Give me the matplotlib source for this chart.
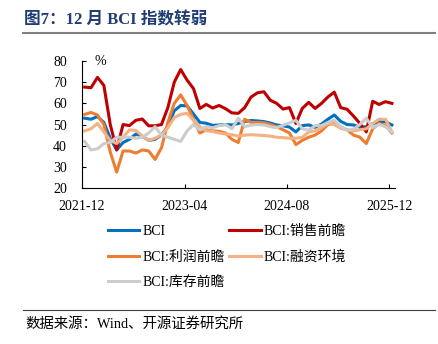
import matplotlib
matplotlib.use('Agg')
import matplotlib.pyplot as plt
import numpy as np

plt.rcParams['font.family'] = ['Liberation Serif', 'Noto Sans CJK SC']
plt.rcParams['axes.unicode_minus'] = False

# 月度数据：2021-12 至 2025-12
tick_labels = ['2021-12', '2023-04', '2024-08', '2025-12']
tick_months = [0, 16, 32, 48]

bci = [53, 52.5, 53.8, 51, 43.5, 38, 41.5, 43, 45.5, 44.5, 42.5, 43, 45,
       49, 56.5, 59, 58.8, 55, 51, 50.6, 49.6, 49.8, 50, 49.8, 50.5,
       51.4, 51.9, 51.7, 51.4, 50.7, 49.8, 49.4, 48.8, 46.5, 49.5, 49.8,
       48.7, 50.2, 52.5, 54.5, 51.5, 50, 49.8, 48.7, 49, 50.4, 51.3, 51.3,
       49.8]
sales = [67.7, 67.4, 72.3, 68.5, 50, 38, 50, 49.5, 52, 52.6, 49.4, 49.4, 50,
         58, 70, 76, 71, 67, 57.6, 59.5, 57.8, 59, 57.5, 55.5, 55.3,
         58, 63, 65, 65.5, 61.5, 60, 57.3, 58, 50.5, 57.6, 60.5,
         57.6, 60, 63, 65.3, 58, 57.2, 54, 50.5, 46.5, 61, 59.5, 60.8, 60]
profit = [54.8, 55.7, 54.5, 50, 37, 27.5, 37.5, 37.5, 36.5, 38, 37.5, 33.5, 39,
          51, 60, 64, 59, 52.5, 46, 47.5, 47, 46.8, 46, 43, 41.5,
          52.5, 51, 51, 50.8, 50, 49, 47.5, 46, 40.5, 42.5, 44,
          45, 47, 50, 50.5, 48.5, 47.5, 45, 44, 41, 48, 50.5, 49.5, 46]
finance = [47, 48, 50.5, 46.5, 42.5, 41, 44, 47.5, 47.2, 44.6, 42.5, 43.5, 45,
           48.5, 53.3, 54.8, 55.3, 52, 49, 47, 46.7, 46, 45.5, 45.2, 44.5,
           45, 45.2, 45, 44.8, 44.5, 44, 43.8, 43.5, 43.5, 44, 46.5,
           47, 48.5, 50.5, 50, 48.2, 47.5, 47, 47.5, 48, 50.5, 52.5, 52.5, 46.5]
stock = [42, 38, 38.5, 41, 41.5, 44, 44, 44, 43.5, 44, 46, 49, 45,
         44, 43, 42, 47, 50, 47.5, 49, 48.5, 49.5, 50, 48, 53,
         49, 49.7, 50, 49.8, 49, 48.5, 49.7, 50.8, 52, 48, 47.3,
         49.5, 49.5, 51, 52, 49, 47.3, 47.8, 50, 53, 48.5, 50, 49, 46.5]

x = np.arange(len(bci)) + 0.4

fig = plt.figure(figsize=(4.39, 3.44), dpi=100)
ax = fig.add_axes([0.187, 0.4535, 0.713, 0.369])

lb, = ax.plot(x, bci, color='#0070C0', lw=2.2, label='BCI')
lr, = ax.plot(x, sales, color='#C00000', lw=2.2, label='BCI:销售前瞻')
lo, = ax.plot(x, profit, color='#ED7D31', lw=2.2, label='BCI:利润前瞻')
lp, = ax.plot(x, finance, color='#F4B183', lw=2.2, label='BCI:融资环境')
lg, = ax.plot(x, stock, color='#CCCCCC', lw=2.2, label='BCI:库存前瞻')

ax.set_xlim(0, 48.9)
ax.set_ylim(20, 80)
ax.set_yticks(range(20, 81, 10))
ax.set_xticks(tick_months)
ax.set_xticklabels(tick_labels)
ax.tick_params(direction='in', length=3, labelsize=10, width=0.8)
ax.tick_params(axis='y', pad=11)
ax.tick_params(axis='x', pad=9)
ax.spines['top'].set_visible(False)
ax.spines['right'].set_visible(False)
ax.text(0.058, 1.0, '%', transform=ax.transAxes, fontsize=10,
        ha='center', va='center')

# 图例：按行排列，两列
fig.legend([lb, lo, lg, lr, lp],
           ['BCI', 'BCI:利润前瞻', 'BCI:库存前瞻', 'BCI:销售前瞻', 'BCI:融资环境'],
           ncol=2, loc='upper left', bbox_to_anchor=(0.245, 0.346),
           frameon=False, fontsize=10, handlelength=2.3, handletextpad=0.2,
           columnspacing=0.3, labelspacing=0.9, borderpad=0, borderaxespad=0)

# 标题与来源
fig.text(24 / 439, 1 - 20 / 344, '图7：12 月 BCI 指数转弱', fontsize=12,
         fontweight='bold', color='#1F3C73', va='center', ha='left')
fig.add_artist(plt.Line2D([23 / 439, 435 / 439], [1 - 32.5 / 344, 1 - 32.5 / 344],
                          color='#808080', lw=1.5))
fig.add_artist(plt.Line2D([23 / 439, 435 / 439], [1 - 310 / 344, 1 - 310 / 344],
                          color='#404040', lw=0.8))
fig.text(25 / 439, 1 - 324 / 344, '数据来源：Wind、开源证券研究所', fontsize=10.4,
         va='center', ha='left')

fig.savefig('out.png', dpi=100)
